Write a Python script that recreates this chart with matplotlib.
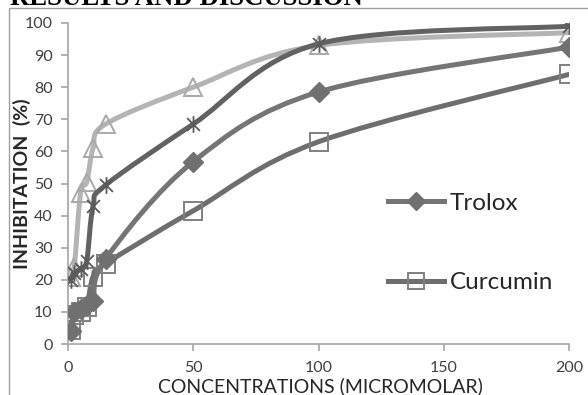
import numpy as np
import matplotlib.pyplot as plt
from matplotlib.path import Path
from matplotlib.patches import PathPatch, Rectangle
from matplotlib.lines import Line2D

plt.rcParams['font.family'] = ['Lato', 'DejaVu Sans']

# concentrations (micromolar) and % inhibition for each compound
conc = [1, 2.5, 5, 7.5, 10, 15, 50, 100, 200]
tri_vals = [21, 24, 47, 50.5, 61, 68.5, 80, 93, 97]
star_vals = [20, 22, 23.5, 26, 43, 49.5, 68.5, 93.5, 99]
trolox_vals = [4, 10, 11, 12, 13.5, 26.5, 56.8, 78.5, 92.5]
curcumin_vals = [4.5, 9, 10, 11.5, 21, 25, 41.5, 63, 84]

xticks = [0, 50, 100, 150, 200]
yticks = list(range(0, 101, 10))


def smooth_path(x, y):
    # catmull-rom through the points, written as cubic bezier segments
    p = np.column_stack([x, y]).astype(float)
    n = len(p)
    verts = [p[0]]
    codes = [Path.MOVETO]
    for i in range(n - 1):
        p0 = p[i - 1] if i > 0 else p[i]
        p1 = p[i]
        p2 = p[i + 1]
        p3 = p[i + 2] if i + 2 < n else p[i + 1]
        c1 = p1 + (p2 - p0) / 6.0
        c2 = p2 - (p3 - p1) / 6.0
        verts += [c1, c2, p2]
        codes += [Path.CURVE4] * 3
    return Path(verts, codes)


def draw_series(ax, x, y, color, lw, z, **mk):
    ax.add_patch(PathPatch(smooth_path(x, y), fill=False, edgecolor=color,
                           lw=lw, capstyle='round', joinstyle='round', zorder=z))
    ax.plot(x, y, linestyle='none', zorder=z + 0.5, **mk)


# excel style star marker: an x with a vertical bar
star = Path([(-1, -1), (1, 1), (-1, 1), (1, -1), (0, -1.3), (0, 1.3)],
            [Path.MOVETO, Path.LINETO, Path.MOVETO, Path.LINETO, Path.MOVETO, Path.LINETO])

fig = plt.figure(figsize=(5.88, 3.95), dpi=100)
ax = fig.add_axes([68 / 588, 1 - 344 / 395, 501 / 588, 321 / 395])

# page frame and the heading above the chart
fig.patches.append(Rectangle((9 / 588, -0.1), 1.2, 1 - 8 / 395 + 0.1, transform=fig.transFigure,
                             fill=False, edgecolor='#a0a0a0', lw=1.0))
fig.text(10 / 588, 1 - 5 / 395, 'RESULTS AND DISCUSSION', family='Liberation Serif',
         fontweight='bold', fontsize=19.3, va='baseline', ha='left', color='black')

draw_series(ax, conc, tri_vals, '#b4b4b4', 3.6, 2,
            marker='^', ms=12.5, mfc='none', mec='#a9a9a9', mew=1.4)
draw_series(ax, conc, curcumin_vals, '#6e6e6e', 3.6, 3,
            marker='s', ms=12.5, mfc='none', mec='#808080', mew=1.4)
draw_series(ax, conc, trolox_vals, '#757575', 3.6, 4,
            marker='D', ms=10, mfc='#707070', mec='#707070', mew=1)
draw_series(ax, conc, star_vals, '#626262', 3.6, 5,
            marker=star, ms=12, mfc='none', mec='#5a5a5a', mew=1.3)

ax.set_xlim(0, 200)
ax.set_ylim(0, 100)
ax.set_xticks(xticks)
ax.set_yticks(yticks)
for s in ['top', 'right']:
    ax.spines[s].set_visible(False)
for s in ['left', 'bottom']:
    ax.spines[s].set_color('#a6a6a6')
    ax.spines[s].set_linewidth(1.2)
ax.tick_params(colors='#a6a6a6', labelcolor='#404040', labelsize=11.5, length=5, width=1.2)
ax.tick_params(axis='x', pad=7)
ax.tick_params(axis='y', pad=6)
ax.set_xlabel('CONCENTRATIONS (MICROMOLAR)', fontsize=14, color='#262626', va='center')
ax.xaxis.set_label_coords(0.503, -0.131)
ax.set_ylabel('INHIBITATION  (%)', fontsize=14, fontweight='bold', color='#262626', va='center')
ax.yaxis.set_label_coords(-0.092, 0.5)

handles = [Line2D([], [], color='#757575', lw=3.6, marker='D', ms=9, mfc='#707070', mec='#707070'),
           Line2D([], [], color='#6e6e6e', lw=3.6, marker='s', ms=11, mfc='none', mec='#808080', mew=1.4)]
ax.legend(handles, ['Trolox', 'Curcumin'], loc='center left', bbox_to_anchor=(0.639, 0.315),
          frameon=False, fontsize=17.5, handlelength=2.3, handletextpad=0.22, labelspacing=2.4,
          borderpad=0, borderaxespad=0, labelcolor='#262626')

fig.savefig('out.png', dpi=100)
